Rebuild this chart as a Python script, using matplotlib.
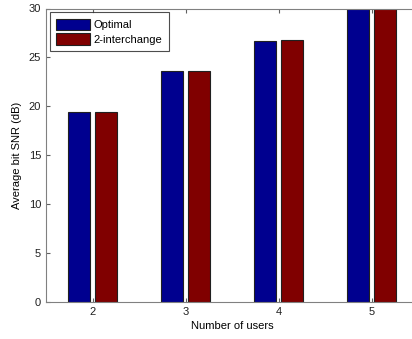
"""Average bit SNR versus number of users, grouped bars."""

import matplotlib

matplotlib.use("Agg")

import matplotlib.pyplot as plt
import numpy as np

users = [2, 3, 4, 5]
optimal = [19.4, 23.6, 26.7, 30.5]
interchange = [19.4, 23.6, 26.8, 30.6]
series_names = ["Optimal", "2-interchange"]

plt.rcParams["font.family"] = ["Liberation Sans", "DejaVu Sans"]
plt.rcParams["font.size"] = 8

figure = plt.figure(figsize=(4.12, 3.39), dpi=100)
axes = figure.add_axes([46 / 412, 37 / 339, 372 / 412, 293.5 / 339])

x = np.array(users, dtype=float)
width = 0.235
offset = 0.145
edge = "#202020"

axes.bar(x - offset, optimal, width, color="#00008f", edgecolor=edge,
         linewidth=0.8, label=series_names[0])
axes.bar(x + offset, interchange, width, color="#800000", edgecolor=edge,
         linewidth=0.8, label=series_names[1])

axes.set_xlim(1.5, 5.5)
axes.set_ylim(0, 30)
axes.set_xticks(users)
axes.set_yticks(range(0, 31, 5))
axes.tick_params(direction="in", length=3, color="#606060",
                 top=True, right=True, labelcolor="#202020")
for spine in axes.spines.values():
    spine.set_color("#808080")
    spine.set_linewidth(0.8)

axes.set_xlabel("Number of users", labelpad=3)
axes.set_ylabel("Average bit SNR (dB)", labelpad=5)

legend = axes.legend(loc="upper left", bbox_to_anchor=(0.0, 1.0),
                     fancybox=False, handlelength=3.1, handleheight=1.2,
                     borderaxespad=0.35, labelspacing=0.3,
                     handletextpad=0.3, borderpad=0.55, fontsize=8)
legend.get_frame().set_edgecolor("#202020")
legend.get_frame().set_linewidth(0.8)

figure.savefig("out.png", dpi=100)
plt.close(figure)
